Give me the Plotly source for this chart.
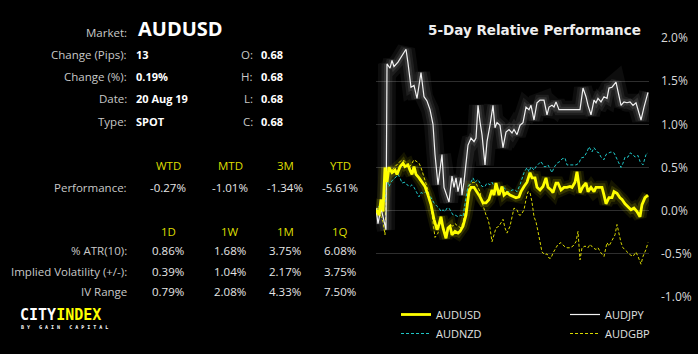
import plotly.graph_objects as go

W, H = 698, 354

# ---------------- data ----------------
market = "AUDUSD"
info_labels = ["Change (Pips):", "Change (%):", "Date:", "Type:"]
info_values = ["13", "0.19%", "20 Aug 19", "SPOT"]
ohlc_labels = ["O:", "H:", "L:", "C:"]
ohlc_values = ["0.68", "0.68", "0.68", "0.68"]

perf_headers = ["WTD", "MTD", "3M", "YTD"]
perf_values = ["-0.27%", "-1.01%", "-1.34%", "-5.61%"]

vol_headers = ["1D", "1W", "1M", "1Q"]
vol_rows = ["% ATR(10):", "Implied Volatility (+/-):", "IV Range"]
vol_values = [
    ["0.86%", "1.68%", "3.75%", "6.08%"],
    ["0.39%", "1.04%", "2.17%", "3.75%"],
    ["0.79%", "2.08%", "4.33%", "7.50%"],
]

# 5-day relative performance (%), t = intraday sample index
t_audjpy = [0, 2, 5, 8, 10, 11, 14, 16, 18, 22, 26, 30, 32, 35, 38, 41, 45, 48, 51, 54, 57, 59,
            62, 66, 68, 70, 73, 76, 78, 80, 82, 85, 86, 88, 90, 92, 95, 98, 100, 102, 104, 106,
            109, 111, 114, 117, 119, 121, 124, 127, 130, 133, 136, 138, 141, 144, 147, 150, 153,
            155, 158, 161, 164, 168, 171, 173, 176, 178, 180, 183, 186, 204, 207, 210, 212, 215,
            218, 220, 222, 225, 228, 231, 233, 236, 240, 243, 245, 248, 251, 254, 257, 260, 265,
            268, 272]
v_audjpy = [0.03, -0.15, 0.03, -0.13, -0.22, 1.70, 1.65, 1.74, 1.67, 1.72, 1.80, 1.87, 1.71, 1.43,
            1.45, 1.30, 1.60, 1.32, 1.27, 1.17, 1.00, 0.65, 0.30, 0.65, 0.27, 0.20, 0.10, 0.40,
            0.27, 0.38, 0.22, 0.38, 0.18, 0.33, 0.57, 0.76, 0.84, 0.80, 0.84, 1.22, 1.03, 0.88,
            0.53, 0.80, 0.99, 1.22, 0.96, 1.02, 0.99, 0.73, 0.91, 0.94, 0.90, 0.94, 0.88, 0.99,
            1.02, 1.20, 1.17, 1.22, 1.05, 1.25, 1.28, 1.28, 1.11, 1.20, 1.22, 1.20, 1.26, 1.17,
            1.17, 1.17, 1.42, 1.32, 1.22, 1.11, 1.28, 1.25, 1.30, 1.26, 1.32, 1.30, 1.42, 1.43,
            1.49, 1.34, 1.22, 1.26, 1.25, 1.26, 1.22, 1.25, 1.05, 1.20, 1.37]

t_audusd = [0, 3, 5, 7, 9, 11, 13, 16, 19, 21, 24, 27, 29, 32, 34, 36, 38, 40, 43, 46, 49, 52, 55,
            58, 61, 63, 65, 67, 70, 72, 74, 76, 79, 82, 84, 87, 90, 93, 95, 98, 101, 104, 107,
            110, 113, 116, 118, 120, 123, 126, 128, 131, 134, 137, 140, 143, 145, 148, 151, 154,
            156, 159, 161, 164, 167, 170, 172, 175, 177, 180, 182, 185, 188, 191, 194, 196, 199,
            201, 204, 207, 210, 212, 215, 218, 220, 223, 226, 228, 230, 233, 236, 238, 241, 244,
            246, 249, 252, 255, 258, 261, 264, 266, 269, 272]
v_audusd = [0.01, -0.05, 0.13, -0.01, 0.50, 0.33, 0.50, 0.44, 0.47, 0.42, 0.51, 0.55, 0.51, 0.53,
            0.47, 0.42, 0.51, 0.42, 0.38, 0.33, 0.28, 0.18, 0.07, -0.10, -0.22, -0.16, -0.07,
            -0.20, -0.32, -0.20, -0.18, -0.28, -0.24, -0.26, -0.24, -0.18, -0.05, 0.22, 0.27,
            0.27, 0.22, 0.16, 0.09, 0.09, 0.13, 0.24, 0.18, 0.32, 0.18, 0.28, 0.18, 0.21, 0.18,
            0.16, 0.15, 0.16, 0.22, 0.28, 0.33, 0.44, 0.38, 0.38, 0.27, 0.24, 0.28, 0.38, 0.27,
            0.24, 0.21, 0.32, 0.32, 0.24, 0.27, 0.27, 0.28, 0.27, 0.33, 0.45, 0.21, 0.28, 0.32,
            0.22, 0.27, 0.22, 0.27, 0.27, 0.27, 0.18, 0.08, 0.15, 0.15, 0.22, 0.20, 0.15, 0.13,
            0.08, 0.05, 0.01, 0.03, -0.01, -0.07, 0.07, 0.15, 0.18]

t_audnzd = [0, 4, 7, 9, 11, 13, 15, 17, 20, 22, 24, 26, 29, 31, 34, 36, 38, 40, 43, 45, 47, 50, 52,
            54, 56, 58, 61, 63, 65, 67, 69, 71, 73, 75, 77, 79, 82, 85, 87, 90, 92, 95, 97, 99,
            102, 104, 106, 109, 111, 114, 116, 118, 121, 123, 126, 128, 131, 134, 136, 139, 141,
            144, 146, 148, 151, 153, 155, 158, 160, 163, 165, 168, 170, 172, 175, 176, 178, 181,
            184, 186, 189, 191, 194, 197, 200, 203, 205, 208, 211, 213, 216, 218, 221, 223, 225,
            228, 230, 233, 235, 238, 240, 242, 245, 247, 249, 252, 254, 257, 259, 262, 264, 267,
            270, 272]
v_audnzd = [-0.01, 0.07, 0.15, 0.10, 0.36, 0.28, 0.33, 0.36, 0.39, 0.42, 0.38, 0.32, 0.33, 0.30,
            0.28, 0.30, 0.27, 0.22, 0.16, 0.21, 0.20, 0.22, 0.16, 0.17, 0.13, 0.09, 0.05, 0.03,
            -0.01, 0.01, -0.01, 0.03, 0.03, -0.01, -0.05, -0.05, -0.07, -0.05, -0.07, 0.15, 0.28,
            0.33, 0.38, 0.33, 0.36, 0.32, 0.28, 0.28, 0.32, 0.30, 0.33, 0.28, 0.30, 0.21, 0.28,
            0.27, 0.22, 0.22, 0.24, 0.24, 0.22, 0.30, 0.38, 0.44, 0.50, 0.45, 0.51, 0.47, 0.51,
            0.55, 0.57, 0.51, 0.51, 0.53, 0.47, 0.44, 0.50, 0.55, 0.57, 0.60, 0.61, 0.53, 0.53,
            0.53, 0.53, 0.55, 0.61, 0.62, 0.68, 0.74, 0.68, 0.73, 0.68, 0.67, 0.62, 0.59, 0.65,
            0.67, 0.68, 0.67, 0.62, 0.57, 0.50, 0.55, 0.62, 0.62, 0.67, 0.65, 0.62, 0.64, 0.57,
            0.53, 0.65, 0.67]

t_audgbp = [0, 2, 5, 7, 9, 11, 13, 16, 19, 22, 25, 28, 31, 33, 35, 38, 41, 43, 45, 47, 50, 52, 54,
            56, 58, 59, 62, 64, 67, 70, 72, 74, 77, 79, 82, 85, 87, 90, 93, 95, 98, 100, 102, 104,
            106, 108, 110, 112, 114, 116, 118, 120, 123, 125, 127, 129, 131, 134, 136, 138, 141,
            143, 145, 148, 150, 152, 154, 156, 158, 160, 162, 164, 166, 169, 171, 173, 175, 177,
            180, 182, 185, 188, 191, 194, 197, 200, 202, 204, 206, 209, 212, 214, 217, 220, 222,
            225, 228, 231, 233, 236, 239, 241, 243, 245, 247, 250, 252, 254, 257, 260, 262, 265,
            267, 270, 272]
v_audgbp = [0.01, 0.03, -0.07, -0.13, -0.28, 0.51, 0.50, 0.47, 0.51, 0.55, 0.58, 0.58, 0.55, 0.50,
            0.53, 0.59, 0.57, 0.55, 0.50, 0.42, 0.33, 0.24, 0.13, -0.05, -0.20, -0.31, -0.26,
            -0.13, -0.18, -0.28, -0.20, -0.16, -0.18, -0.15, -0.18, -0.20, -0.13, 0.03, 0.28,
            0.32, 0.33, 0.32, 0.27, 0.22, 0.10, 0.01, -0.05, -0.10, -0.20, -0.36, -0.28, -0.20,
            -0.18, -0.14, -0.10, -0.20, -0.26, -0.18, -0.08, 0.03, 0.01, -0.05, -0.05, 0.01, 0.13,
            0.22, 0.21, 0.10, -0.07, -0.13, -0.24, -0.36, -0.48, -0.51, -0.50, -0.55, -0.55,
            -0.49, -0.43, -0.39, -0.37, -0.41, -0.43, -0.43, -0.41, -0.36, -0.24, -0.57, -0.43,
            -0.41, -0.43, -0.39, -0.43, -0.45, -0.43, -0.49, -0.53, -0.37, -0.41, -0.34, -0.28,
            -0.16, -0.28, -0.37, -0.43, -0.47, -0.49, -0.51, -0.53, -0.48, -0.53, -0.62, -0.53,
            -0.45, -0.37]

y_tickvals = [-1.0, -0.5, 0.0, 0.5, 1.0, 1.5, 2.0]
y_ticktext = ["-1.0%", "-0.5%", "0.0%", "0.5%", "1.0%", "1.5%", "2.0%"]

# ---------------- styles ----------------
BG = "#000000"
LABEL = "#c8c8c8"
VALUE = "#ffffff"
HEAD = "#dede00"
FONT = "Open Sans"
FS = 11.5


def px(x):
    return x / W


def py(y):
    return 1 - y / H


fig = go.Figure()

# glow layers
for w, a in [(18, 0.05), (11, 0.07), (6, 0.10)]:
    fig.add_trace(go.Scatter(x=t_audjpy, y=v_audjpy, mode="lines", showlegend=False,
                             hoverinfo="skip",
                             line=dict(color=f"rgba(255,255,255,{a})", width=w)))
for w, a in [(13, 0.08), (8, 0.14)]:
    fig.add_trace(go.Scatter(x=t_audusd, y=v_audusd, mode="lines", showlegend=False,
                             hoverinfo="skip",
                             line=dict(color=f"rgba(255,255,0,{a})", width=w)))

fig.add_trace(go.Scatter(x=t_audnzd, y=v_audnzd, mode="lines", name="AUDNZD",
                         legend="legend", legendrank=2,
                         line=dict(color="#1fc6c6", width=1, dash="3px,2px")))
fig.add_trace(go.Scatter(x=t_audgbp, y=v_audgbp, mode="lines", name="AUDGBP",
                         legend="legend2", legendrank=2,
                         line=dict(color="#d8d800", width=1, dash="3px,2px")))
fig.add_trace(go.Scatter(x=t_audjpy, y=v_audjpy, mode="lines", name="AUDJPY",
                         legend="legend2", legendrank=1,
                         line=dict(color="#f2f2f2", width=1.2)))
fig.add_trace(go.Scatter(x=t_audusd, y=v_audusd, mode="lines", name="AUDUSD",
                         legend="legend", legendrank=1,
                         line=dict(color="#ffff00", width=2.8)))

annotations = []


def text(x, y, s, size=FS, color=LABEL, anchor="left", bold=False, family=FONT):
    if bold:
        s = f"<b>{s}</b>"
    annotations.append(dict(x=px(x), y=py(y), xref="paper", yref="paper", text=s,
                            showarrow=False, xanchor=anchor, yanchor="middle",
                            font=dict(size=size, color=color, family=family)))


# header block
text(129, 32, "Market:", anchor="right")
text(136, 29, market, size=20, color=VALUE, bold=True)
rows_y = [54, 77, 99, 121]
for lab, val, ol, ov, y in zip(info_labels, info_values, ohlc_labels, ohlc_values, rows_y):
    text(129, y, lab, anchor="right")
    text(134, y, val, color=VALUE, bold=True, size=11)
    text(255, y, ol, anchor="right")
    text(259, y, ov, color=VALUE, bold=True, size=11)

cols_x = [168, 230, 285, 340]
for hx, hd in zip(cols_x, perf_headers):
    text(hx, 165, hd, color=HEAD, anchor="center")
text(129, 187, "Performance:", anchor="right")
for hx, v in zip(cols_x, perf_values):
    text(hx, 187, v, color="#e6e6e6", anchor="center")

for hx, hd in zip(cols_x, vol_headers):
    text(hx, 231, hd, color=HEAD, anchor="center")
for rl, vals, y in zip(vol_rows, vol_values, [250, 271, 291]):
    text(129, y, rl, anchor="right")
    for hx, v in zip(cols_x, vals):
        text(hx, y, v, color="#e6e6e6", anchor="center")

# logo
annotations.append(dict(x=px(18), y=py(315), xref="paper", yref="paper",
                        text="<b><span style='color:#ffffff'>CITY</span>"
                             "<span style='color:#ffff00'>INDEX</span></b>",
                        showarrow=False, xanchor="left", yanchor="middle",
                        font=dict(size=15, family="DejaVu Sans Mono")))
text(19, 327, "B Y   G A I N   C A P I T A L", size=5, color="#ffffff", bold=True,
     family="DejaVu Sans Mono")

# chart title
annotations.append(dict(x=px(643), y=py(30), xref="paper", yref="paper",
                        text="<b>5-Day Relative Performance</b>", showarrow=False,
                        xanchor="right", yanchor="middle",
                        font=dict(size=13.5, color="#eeeeee", family="DejaVu Sans")))

fig.update_layout(
    width=W, height=H,
    margin=dict(l=0, r=0, t=0, b=0, autoexpand=False),
    paper_bgcolor=BG, plot_bgcolor=BG,
    annotations=annotations,
    xaxis=dict(domain=[px(376), px(649)], range=[0, 273], visible=False, fixedrange=True),
    yaxis=dict(domain=[py(297), py(38)], range=[-1.0, 2.0], side="right",
               tickvals=y_tickvals, ticktext=y_ticktext, showgrid=True, automargin=False,
               gridcolor="#2e2e2e", gridwidth=1, zeroline=False, showline=False,
               ticks="", ticklabelstandoff=11,
               tickfont=dict(size=12, color="#d8d8d8", family=FONT)),
    legend=dict(x=px(396), y=py(300), xanchor="left", yanchor="top",
                orientation="v", bgcolor="rgba(0,0,0,0)", traceorder="normal",
                font=dict(size=11, color="#e0e0e0", family=FONT), itemwidth=30),
    legend2=dict(x=px(565), y=py(300), xanchor="left", yanchor="top",
                 orientation="v", bgcolor="rgba(0,0,0,0)", traceorder="normal",
                 font=dict(size=11, color="#e0e0e0", family=FONT), itemwidth=30),
    showlegend=True,
)

fig.write_html("out.html")
